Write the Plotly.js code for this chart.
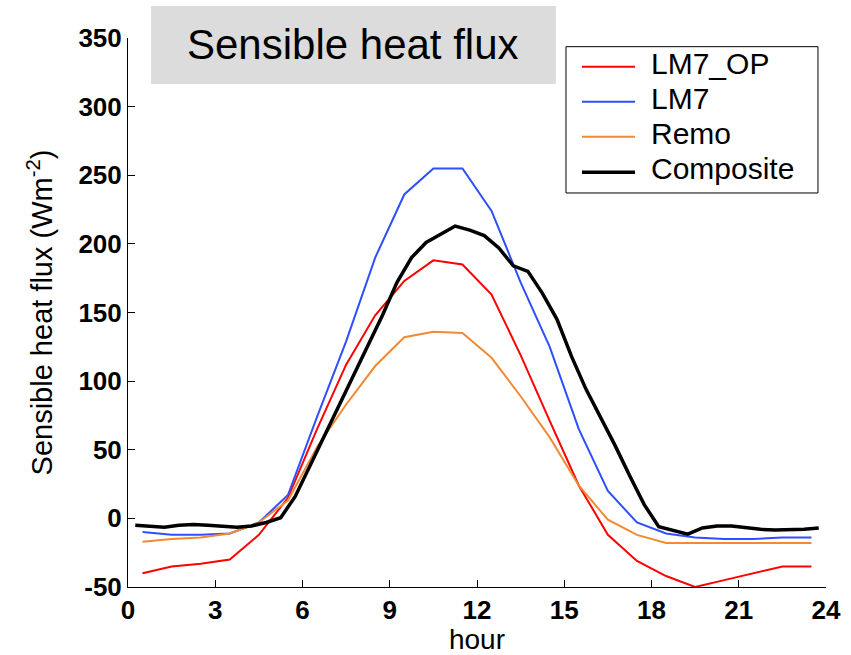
<!DOCTYPE html>
<html>
<head>
<meta charset="utf-8">
<script src="https://cdn.plot.ly/plotly-3.0.1.min.js"></script>
<style>html,body{margin:0;padding:0;background:#fff;}#chart{width:851px;height:655px;}</style>
</head>
<body>
<div id="chart"></div>
<script>
// hourly model output (hour mid-points)
const hours = [0.5,1.5,2.5,3.5,4.5,5.5,6.5,7.5,8.5,9.5,10.5,11.5,12.5,13.5,14.5,15.5,16.5,17.5,18.5,19.5,20.5,21.5,22.5,23.5];
const lm7op = [-40,-35,-33,-30,-12,15,65,112,148,173,188,185,163,119,71,24,-12,-31,-42,-50,-45,-40,-35,-35];
const lm7   = [-10,-12,-12,-11,-3,17,74,129,190,236,255,255,224,172,125,65,20,-3,-11,-14,-15,-15,-14,-14];
const remo  = [-17,-15,-14,-11,-3,13,52,83,111,132,136,135,117,89,59,24,-1,-12,-18,-18,-18,-18,-18,-18];
// composite (half-hour resolution)
const compHours = [0.25,0.75,1.25,1.75,2.25,2.75,3.25,3.75,4.25,4.75,5.25,5.75,6.25,6.75,7.25,7.75,8.25,8.75,9.25,9.75,10.25,10.75,11.25,11.75,12.25,12.75,13.25,13.75,14.25,14.75,15.25,15.75,16.25,16.75,17.25,17.75,18.25,18.75,19.25,19.75,20.25,20.75,21.25,21.75,22.25,22.75,23.25,23.75];
const composite = [-5,-6,-6.5,-5,-4.5,-5,-6,-6.5,-5.5,-3,0.5,16,38,60,82,105,127,148,172,190,201,207,213,210,206,197,184,180,164,145,118,94,74,53,31,10,-6,-9,-11.5,-7,-5.5,-5.5,-7,-8,-8.5,-8.5,-8,-7];
const seriesNames = ['LM7_OP','LM7','Remo','Composite'];
const xTicks = [0,3,6,9,12,15,18,21,24];
const yTicks = [-50,0,50,100,150,200,250,300,350];

const FONT = 'Liberation Sans, Arial, Helvetica, sans-serif';
const colors = ['#ff0000','#2f4fff','#f28a33','#000000'];
const widths = [2,2,2,3.5];
const seriesX = [hours, hours, hours, compHours];
const seriesY = [lm7op, lm7, remo, composite];

const traces = seriesNames.map((n,i) => ({
  x: seriesX[i], y: seriesY[i], name: n, mode:'lines',
  line:{color:colors[i], width:widths[i]}, showlegend:false
}));

// legend drawn as a boxed key in paper coordinates
const legX0 = 0.6275, legX1 = 0.9885, legY0 = 0.7177, legY1 = 0.9842;
const keyLineX0 = 0.6504, keyLineX1 = 0.7264, keyTextX = 0.7465;
const keyRowY = [0.9478, 0.8840, 0.8203, 0.7555];

const shapes = [
  {type:'rect', xref:'paper', yref:'paper', x0:0.033, x1:0.613, y0:0.9162, y1:1.0583,
   fillcolor:'#dcdcdc', line:{width:0}, layer:'above'},
  {type:'rect', xref:'paper', yref:'paper', x0:legX0, x1:legX1, y0:legY0, y1:legY1,
   fillcolor:'#ffffff', line:{color:'#000', width:1}, layer:'above'}
];
const annotations = [{
  xref:'paper', yref:'paper', x:0.323, y:0.988, xanchor:'center', yanchor:'middle',
  text:'Sensible heat flux', showarrow:false,
  font:{family:FONT, size:42, color:'#000'}
}];
seriesNames.forEach((n,i) => {
  shapes.push({type:'line', xref:'paper', yref:'paper', x0:keyLineX0, x1:keyLineX1,
    y0:keyRowY[i], y1:keyRowY[i], line:{color:colors[i], width:widths[i]}, layer:'above'});
  annotations.push({xref:'paper', yref:'paper', x:keyTextX, y:keyRowY[i]+0.006,
    xanchor:'left', yanchor:'middle', text:n, showarrow:false,
    font:{family:FONT, size:30, color:'#000'}});
});

const layout = {
  width: 851, height: 655,
  margin: {l:128, r:25, t:38, b:68, pad:0},
  paper_bgcolor:'#ffffff', plot_bgcolor:'#ffffff',
  font: {family: FONT, color:'#000', size:26},
  showlegend: false,
  xaxis: {
    range:[0,24], tickmode:'array', tickvals:xTicks, ticktext:xTicks.map(String),
    ticks:'inside', ticklen:7, tickcolor:'#000', tickwidth:1,
    showline:true, linecolor:'#000', linewidth:1, mirror:false,
    showgrid:false, zeroline:false,
    tickfont:{family:FONT, size:26, color:'#000', weight:'bold'},
    title:{text:'hour', font:{family:FONT, size:28, color:'#000'}, standoff:6}
  },
  yaxis: {
    range:[-50,350], tickmode:'array', tickvals:yTicks, ticktext:yTicks.map(String),
    ticks:'inside', ticklen:7, tickcolor:'#000', tickwidth:1,
    showline:true, linecolor:'#000', linewidth:1, mirror:false,
    showgrid:false, zeroline:false,
    tickfont:{family:FONT, size:26, color:'#000', weight:'bold'},
    title:{text:'Sensible heat flux (Wm<sup>-2</sup>)', font:{family:FONT, size:29, color:'#000'}, standoff:17}
  },
  shapes: shapes,
  annotations: annotations
};

Plotly.newPlot('chart', traces, layout, {displayModeBar:false, staticPlot:true});
</script>
</body>
</html>
